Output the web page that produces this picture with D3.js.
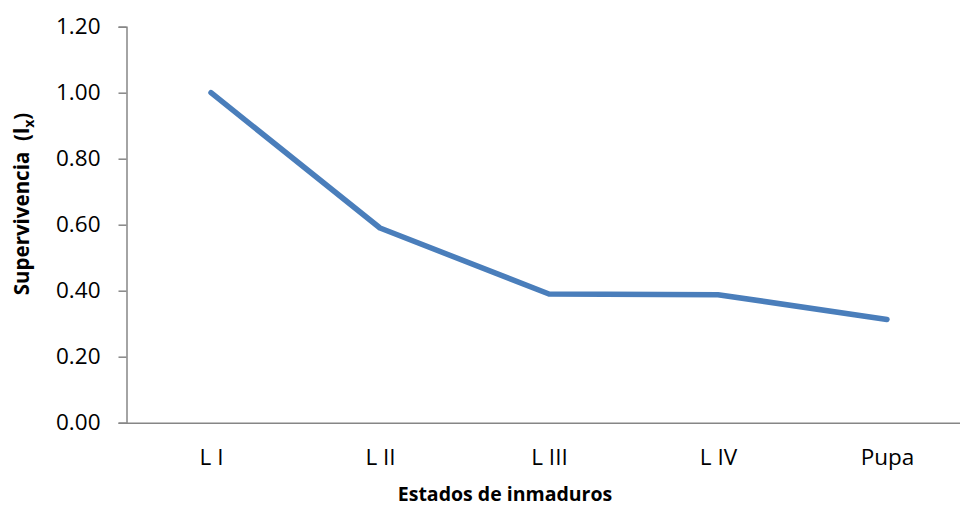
<!DOCTYPE html>
<html>
<head>
<meta charset="utf-8">
<script src="https://cdn.jsdelivr.net/npm/d3@7"></script>
<style>
  html, body { margin: 0; padding: 0; background: #fff; }
  svg { display: block; }
  text { font-family: "Open Sans", "Noto Sans", sans-serif; fill: #000; }
</style>
</head>
<body>
<svg id="chart" width="960" height="506"></svg>
<script>
// Survival (lx) across immature stages
const stages = ["L I", "L II", "L III", "L IV", "Pupa"];
const survival = [1.00, 0.59, 0.39, 0.388, 0.313];
const yTicks = [0, 0.2, 0.4, 0.6, 0.8, 1.0, 1.2];

(function draw() {
  const svg = d3.select("#chart");
  const plotLeft = 126.5, plotTop = 26.7, plotBottom = 422.7, plotRight = 971.5;
  const axisColor = "#868686";

  const x = d3.scalePoint().domain(stages).range([plotLeft, plotRight]).padding(0.5);
  const y = d3.scaleLinear().domain([0, 1.2]).range([plotBottom, plotTop]);

  // Y axis
  const yAxis = svg.append("g")
    .attr("transform", `translate(${plotLeft},0)`)
    .call(d3.axisLeft(y).tickValues(yTicks).tickFormat(d3.format(".2f")).tickSizeOuter(0).tickSize(8).tickPadding(18));
  yAxis.select(".domain").attr("stroke", axisColor).attr("stroke-width", 1.5);
  yAxis.selectAll(".tick line").attr("stroke", axisColor).attr("stroke-width", 1.5);
  yAxis.selectAll(".tick text").attr("font-size", 22.5).attr("font-family", "Open Sans").attr("fill", "#000");

  // X axis
  const xAxis = svg.append("g")
    .attr("transform", `translate(0,${plotBottom})`)
    .call(d3.axisBottom(x).tickSize(0).tickSizeOuter(0).tickPadding(26));
  xAxis.select(".domain").attr("stroke", axisColor).attr("stroke-width", 1.5);
  xAxis.selectAll(".tick text").attr("font-size", 22.5).attr("font-family", "Open Sans").attr("fill", "#000");

  // Series line
  const line = d3.line().x((d, i) => x(stages[i])).y(d => y(d));
  svg.append("path")
    .datum(survival)
    .attr("d", line)
    .attr("fill", "none")
    .attr("stroke", "#4A7EBB")
    .attr("stroke-width", 5.5)
    .attr("stroke-linecap", "round")
    .attr("stroke-linejoin", "round");

  // Axis titles
  svg.append("text")
    .attr("x", 505).attr("y", 501)
    .attr("text-anchor", "middle")
    .attr("font-size", 19.5).attr("font-weight", "bold")
    .text("Estados de inmaduros");

  const yt = svg.append("text")
    .attr("transform", "translate(29,204) rotate(-90)")
    .attr("text-anchor", "middle")
    .attr("font-size", 20.5).attr("font-weight", "bold")
    .attr("xml:space", "preserve");
  yt.append("tspan").text("Supervivencia  (l");
  yt.append("tspan").attr("font-size", 14).attr("dy", 5).text("x");
  yt.append("tspan").attr("dy", -5).text(")");
})();
</script>
</body>
</html>
